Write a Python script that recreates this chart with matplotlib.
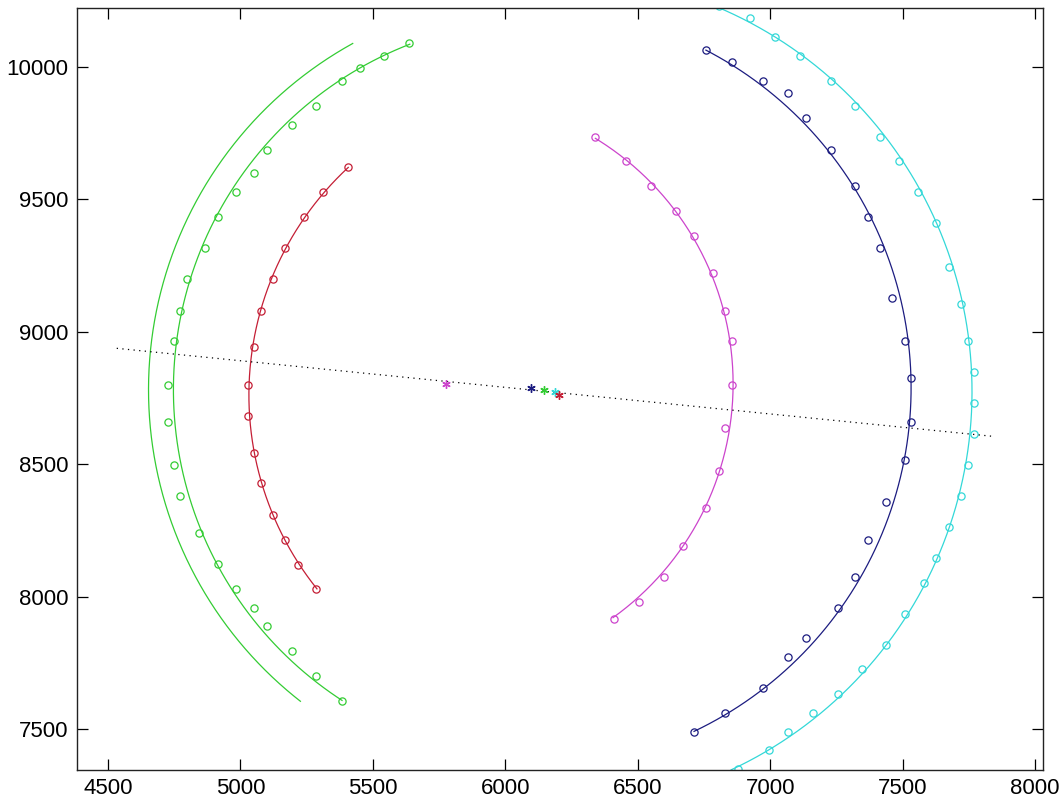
import numpy as np
import matplotlib
matplotlib.use("Agg")
import matplotlib.pyplot as plt

plt.rcParams['font.family'] = ['Liberation Sans', 'DejaVu Sans']

# measured edge points for each ring
red_x = [5407, 5310, 5240, 5169, 5123, 5076, 5052, 5028, 5028, 5052, 5076, 5123, 5169, 5217, 5287]
red_y = [9620, 9527, 9431, 9314, 9197, 9079, 8941, 8800, 8683, 8542, 8428, 8309, 8215, 8121, 8028]

green_x = [5637, 5543, 5453, 5382, 5287, 5194, 5100, 5052, 4982, 4914, 4867, 4798, 4773, 4750, 4728,
           4728, 4750, 4773, 4845, 4914, 4982, 5052, 5099, 5194, 5287, 5382]
green_y = [10088, 10040, 9994, 9946, 9853, 9781, 9687, 9597, 9526, 9431, 9314, 9197, 9079, 8966, 8800,
           8659, 8498, 8381, 8239, 8122, 8028, 7956, 7888, 7795, 7701, 7606]

magenta_x = [6338, 6457, 6551, 6646, 6714, 6784, 6831, 6855, 6855, 6831, 6806, 6759, 6670, 6599, 6505, 6411]
magenta_y = [9736, 9645, 9549, 9455, 9361, 9220, 9079, 8966, 8800, 8635, 8474, 8333, 8192, 8074, 7980, 7914]

blue_x = [6759, 6855, 6972, 7066, 7136, 7230, 7321, 7368, 7414, 7461, 7509, 7533,
          7533, 7509, 7438, 7368, 7321, 7255, 7136, 7066, 6972, 6831, 6714]
blue_y = [10064, 10016, 9946, 9899, 9805, 9687, 9550, 9431, 9314, 9126, 8966, 8824,
          8659, 8517, 8356, 8215, 8073, 7956, 7843, 7772, 7654, 7561, 7491]

cyan_x = [6806, 6924, 7018, 7113, 7231, 7321, 7414, 7486, 7557, 7627, 7674, 7721, 7745, 7768,
          7768, 7768, 7745, 7721, 7674, 7627, 7579, 7509, 7438, 7345, 7255, 7160, 7066, 6996, 6877]
cyan_y = [10228, 10182, 10111, 10040, 9946, 9852, 9733, 9644, 9526, 9408, 9244, 9103, 8966, 8847,
          8730, 8613, 8498, 8380, 8263, 8145, 8050, 7933, 7818, 7726, 7631, 7561, 7489, 7420, 7350]

# fitted circles: centre x, centre y, radius, start/end angle (deg)
fits = {
    'red':         (6202, 8761, 1170, 132.8, 218.7),
    'green':       (6145, 8781, 1398, 111.2, 237.0),
    'green_outer': (6145, 8781, 1492, 118.9, 232.0),
    'magenta':     (5775, 8803, 1085, -54.4, 58.6),
    'blue':        (6097, 8788, 1435, -64.6, 62.6),
    'cyan':        (6187, 8774, 1575, -65.0, 66.9),
}

# centres, drawn in this order
centre_names = ['magenta', 'blue', 'green', 'cyan', 'red']

# line through the centres
axis_x = [4533, 7850]
axis_y = [8937, 8604]

colors = {
    'red': '#c41e35',
    'green': '#33cc33',
    'green_outer': '#33cc33',
    'magenta': '#cc44cc',
    'blue': '#1c1c80',
    'cyan': '#33d8d8',
}

points = {
    'red': (red_x, red_y),
    'green': (green_x, green_y),
    'magenta': (magenta_x, magenta_y),
    'blue': (blue_x, blue_y),
    'cyan': (cyan_x, cyan_y),
}

fig = plt.figure(figsize=(10.62, 8.02), dpi=100)
ax = fig.add_axes([77 / 1062, 32 / 802, 966 / 1062, 762 / 802])

for name, (px, py) in points.items():
    ax.plot(px, py, 'o', mfc='none', mec=colors[name], ms=5.2, mew=0.9)

for name, (cx, cy, r, t0, t1) in fits.items():
    t = np.radians(np.linspace(t0, t1, 400))
    ax.plot(cx + r * np.cos(t), cy + r * np.sin(t), '-', color=colors[name], lw=0.9)

ax.plot(axis_x, axis_y, color='k', lw=0.9, linestyle=(0, (1, 3.5)))

for name in centre_names:
    cx, cy = fits[name][0], fits[name][1]
    ax.plot(cx, cy, marker=(6, 2, 0), color=colors[name], ms=6, mew=1.0)

ax.set_xlim(4383, 8030)
ax.set_ylim(7346, 10221)
ax.set_xticks([4500, 5000, 5500, 6000, 6500, 7000, 7500, 8000])
ax.set_yticks([7500, 8000, 8500, 9000, 9500, 10000])
ax.tick_params(direction='in', length=8, width=0.9, labelsize=16,
               top=True, right=True, pad=6)
for s in ax.spines.values():
    s.set_linewidth(1.0)
    s.set_color('#222222')

fig.savefig('out.png', dpi=100)
